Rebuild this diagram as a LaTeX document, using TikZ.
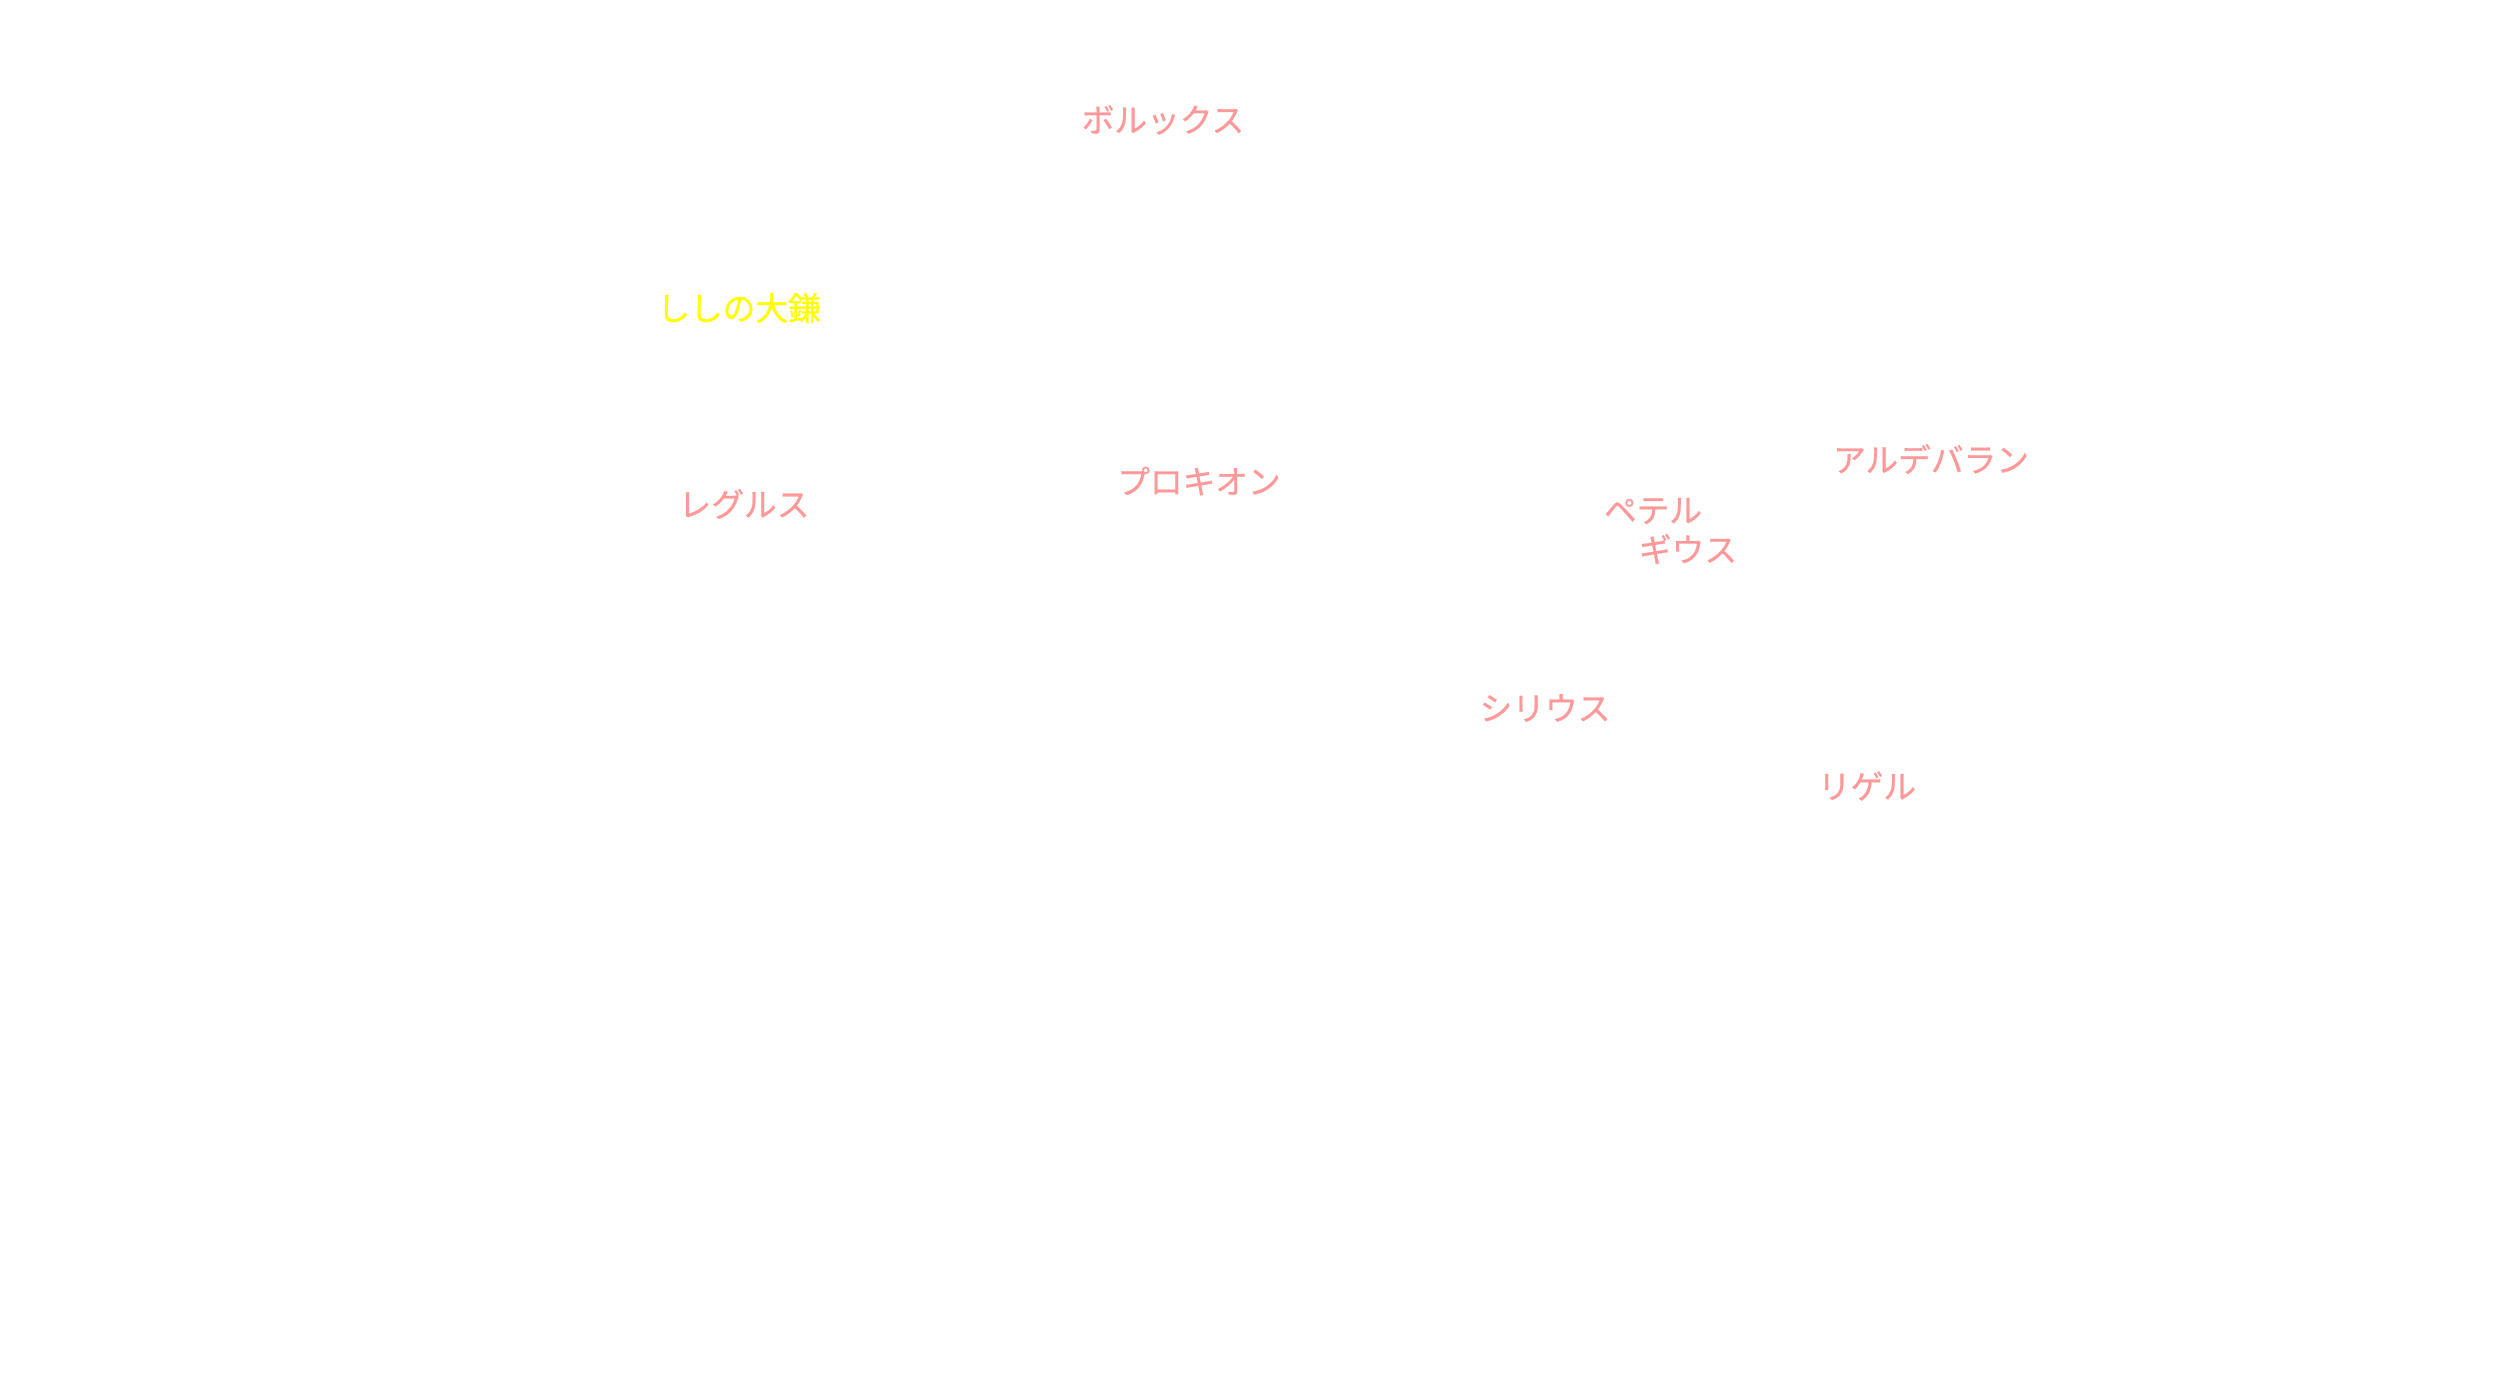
\documentclass[tikz,border=0pt]{standalone}
\usepackage{fontspec}
\setmainfont{Noto Sans CJK JP}
\newfontfamily\starfont{Noto Sans CJK JP}[FakeBold=0.7]
\definecolor{starpink}{HTML}{FF9999}
\definecolor{asteryellow}{HTML}{FFFF00}
\begin{document}
\begin{tikzpicture}[x=0.01cm,y=-0.01cm,
  star/.style={text=starpink,font=\starfont\fontsize{9.3pt}{11pt}\selectfont,inner sep=0pt},
  asterism/.style={text=asteryellow,font=\starfont\fontsize{9.3pt}{11pt}\selectfont,inner sep=0pt}]
\useasboundingbox[fill=white] (0,0) rectangle (2500,1400);
\node[star] (pollux) at (1163,120) {ボルックス};
\node[asterism] (sickle) at (739,308) {ししの大鎌};
\node[star] (regulus) at (744,504) {レグルス};
\node[star] (procyon) at (1199,481) {プロキオン};
\node[star] (aldebaran) at (1931,459) {アルデバラン};
\node[star] (betel) at (1653,511) {ペテル};
\node[star] (geuse) at (1688,549) {ギウス};
\node[star] (sirius) at (1545,708) {シリウス};
\node[star] (rigel) at (1867,786) {リゲル};
\end{tikzpicture}
\end{document}
